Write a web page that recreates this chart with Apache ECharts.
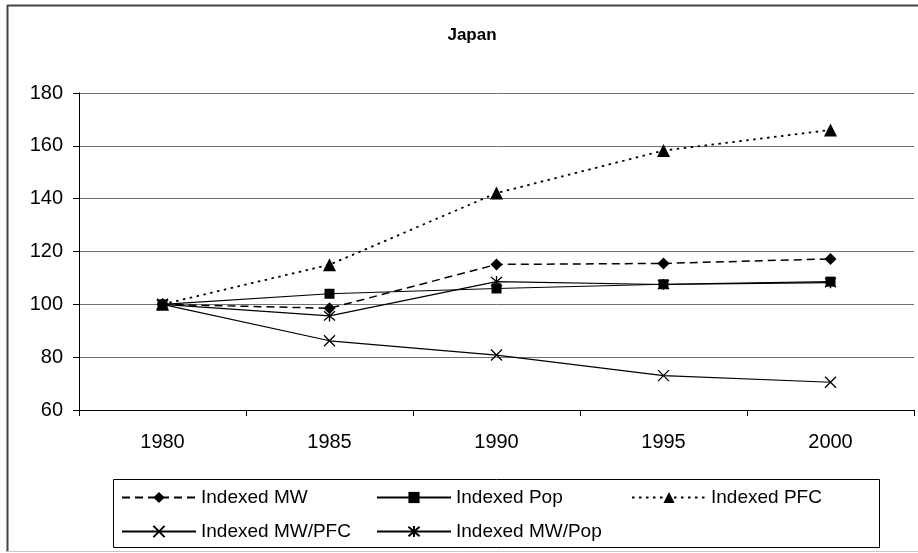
<!DOCTYPE html>
<html>
<head>
<meta charset="utf-8">
<script src="https://cdn.jsdelivr.net/npm/echarts@6/dist/echarts.min.js"></script>
<style>
html,body{margin:0;padding:0;background:#fff;}
#chart{width:918px;height:553px;}
</style>
</head>
<body>
<div id="chart"></div>
<script>
var categories = ['1980', '1985', '1990', '1995', '2000'];
var indexedMW = [100, 98.5, 115.1, 115.5, 117.2];
var indexedPop = [100, 104, 106, 107.6, 108.6];
var indexedPFC = [100, 115, 142.1, 158.2, 166];
var indexedMWPFC = [100, 86.2, 80.8, 73, 70.5];
var indexedMWPop = [100, 95.6, 108.6, 107.5, 108.2];
var yTicks = {min: 60, max: 180, interval: 20};

var FONT = '"Liberation Sans", Arial, sans-serif';
var X_SYM = 'path://M0,0L10,10M10,0L0,10';
var AST_SYM = 'path://M0,0L10,10M10,0L0,10M5,-1L5,11';

function mkSeries(name, data, symbol, size, lineType, lineWidth, strokeOnly) {
  return {
    name: name,
    type: 'line',
    data: data,
    symbol: symbol,
    symbolSize: size,
    showAllSymbol: true,
    animation: false,
    lineStyle: {color: '#000', width: lineWidth, type: lineType},
    itemStyle: strokeOnly ?
      {color: 'rgba(0,0,0,0)', borderColor: '#000', borderWidth: 1.3} :
      {color: '#000', borderColor: '#000', borderWidth: 0},
    emphasis: {disabled: true}
  };
}

function mkLegend(name, left, top) {
  return {
    data: [name],
    left: left,
    top: top,
    padding: 0,
    itemWidth: 74,
    itemHeight: 14,
    selectedMode: false,
    textStyle: {fontFamily: FONT, fontSize: 19, color: '#000'}
  };
}

var chart = echarts.init(document.getElementById('chart'), null, {renderer: 'canvas'});
chart.setOption({
  animation: false,
  backgroundColor: '#fff',
  title: {
    text: 'Japan',
    left: 467, textAlign: 'center',
    top: 22,
    textStyle: {fontFamily: FONT, fontSize: 17, fontWeight: 'bold', color: '#000'}
  },
  grid: {left: 79, right: 4, top: 93, bottom: 143, containLabel: false},
  xAxis: {
    type: 'category',
    data: categories,
    boundaryGap: true,
    axisLine: {lineStyle: {color: '#000', width: 1}},
    axisTick: {show: true, length: 6, inside: false, lineStyle: {color: '#000'}},
    axisLabel: {fontFamily: FONT, fontSize: 20, color: '#000', margin: 22}
  },
  yAxis: {
    type: 'value',
    min: yTicks.min, max: yTicks.max, interval: yTicks.interval,
    axisLine: {show: true, lineStyle: {color: '#000', width: 1}},
    axisTick: {show: true, length: 6, lineStyle: {color: '#000'}},
    axisLabel: {fontFamily: FONT, fontSize: 20, color: '#000', margin: 16},
    splitLine: {show: true, lineStyle: {color: '#707070', width: 1}}
  },
  legend: [
    mkLegend('Indexed MW', 121, 488),
    mkLegend('Indexed Pop', 376, 488),
    mkLegend('Indexed PFC', 631, 488),
    mkLegend('Indexed MW/PFC', 121, 522),
    mkLegend('Indexed MW/Pop', 376, 522)
  ],
  graphic: [
    {type: 'line', shape: {x1: 7.5, y1: 5, x2: 7.5, y2: 552}, style: {stroke: '#444', lineWidth: 2}, silent: true},
    {type: 'line', shape: {x1: 7, y1: 5.5, x2: 918, y2: 5.5}, style: {stroke: '#444', lineWidth: 2}, silent: true},
    {type: 'line', shape: {x1: 7, y1: 551.5, x2: 918, y2: 551.5}, style: {stroke: '#c8c8c8', lineWidth: 1}, silent: true},
    {type: 'rect', shape: {x: 113.5, y: 479.5, width: 766, height: 68}, style: {fill: 'none', stroke: '#000', lineWidth: 1}, silent: true, z: -1}
  ],
  series: [
    mkSeries('Indexed MW', indexedMW, 'diamond', 12, [8, 5], 1.5, false),
    mkSeries('Indexed Pop', indexedPop, 'rect', 10, 'solid', 1.2, false),
    mkSeries('Indexed PFC', indexedPFC, 'triangle', 13, [2.5, 4.5], 1.8, false),
    mkSeries('Indexed MW/PFC', indexedMWPFC, X_SYM, 11, 'solid', 1.2, true),
    mkSeries('Indexed MW/Pop', indexedMWPop, AST_SYM, 11, 'solid', 1.2, true)
  ]
});
</script>
</body>
</html>
